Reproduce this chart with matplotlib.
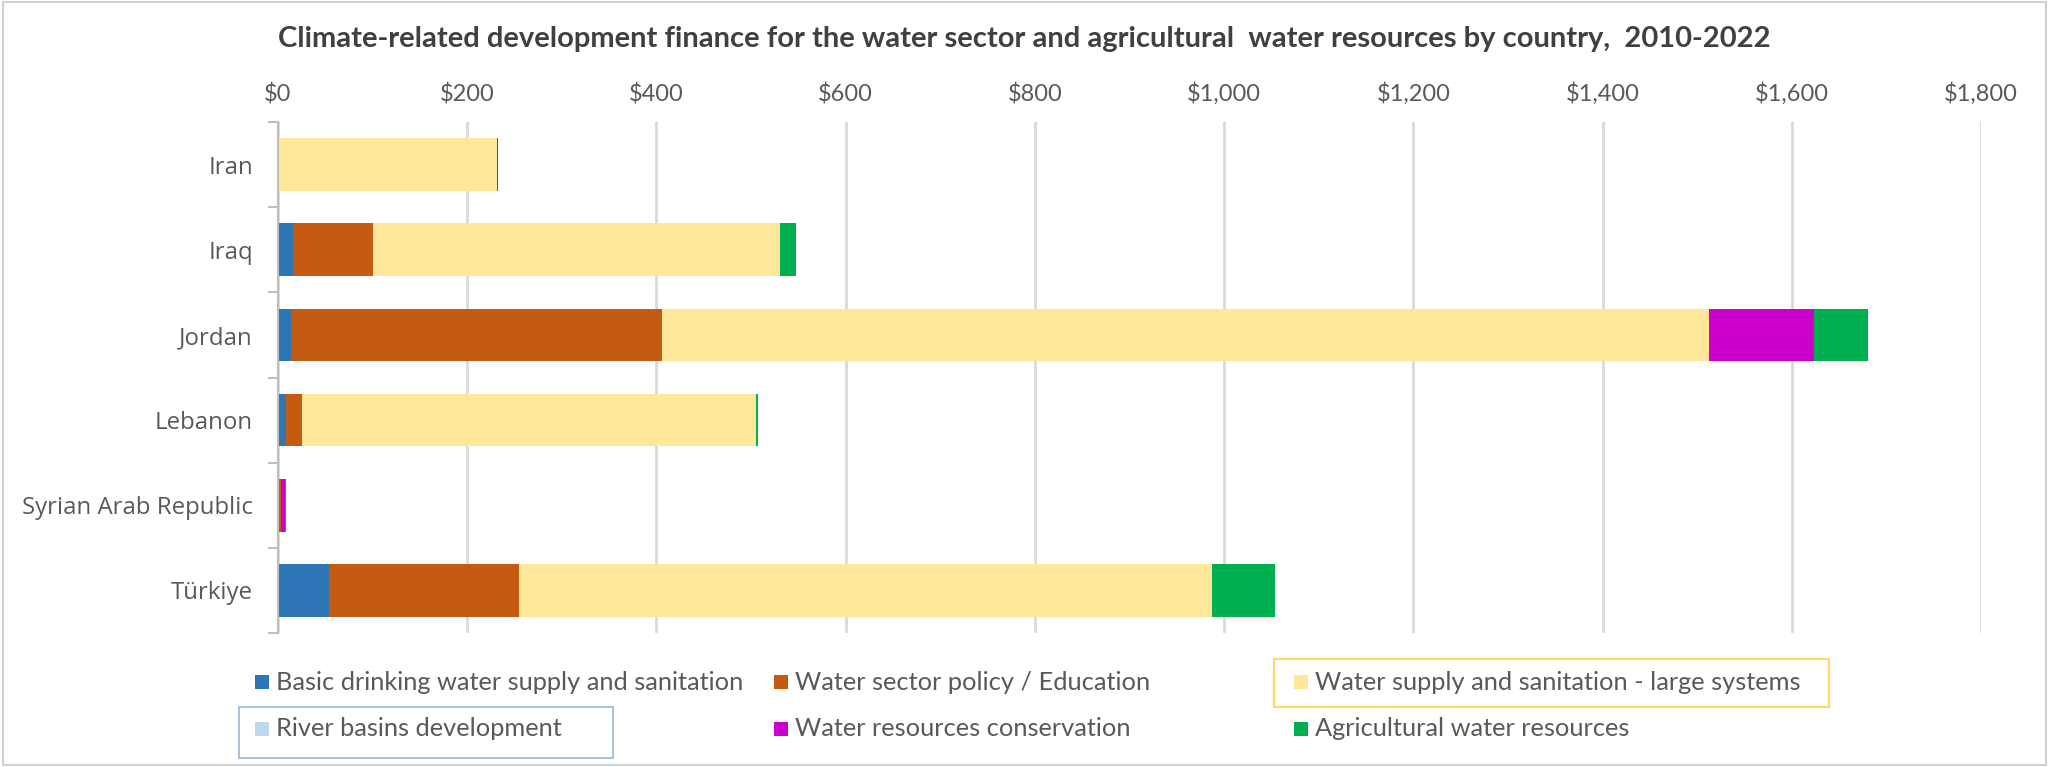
import numpy as np
import matplotlib.pyplot as plt
from matplotlib.patches import Rectangle
from matplotlib.ticker import FuncFormatter, FixedLocator

# climate-related development finance, USD million, 2010-2022
countries = ["Iran", "Iraq", "Jordan", "Lebanon", "Syrian Arab Republic", "Türkiye"]
basic_drinking = [0, 15.5, 14, 8, 0, 54]
policy_education = [1, 84.5, 392, 17, 3.5, 200.5]
large_systems = [230, 431, 1107, 480, 0, 732.5]
river_basins = [0, 0, 0, 0, 0, 0]
conservation = [2, 0, 110, 0, 4, 0]
agricultural = [0, 16, 58, 2, 1, 67]

series_names = ["Basic drinking water supply and sanitation",
                "Water sector policy / Education",
                "Water supply and sanitation - large systems",
                "River basins development",
                "Water resources conservation",
                "Agricultural water resources"]
series_values = [basic_drinking, policy_education, large_systems,
                 river_basins, conservation, agricultural]
colors = ["#2E75B6", "#C55A11", "#FFE699", "#BDD7EE", "#CC00CC", "#00B050"]

W, H = 2049, 767
fig = plt.figure(figsize=(W / 100, H / 100), dpi=100)
txt = "#595959"

# outer chart border
fig.patches.append(Rectangle((0.0015, 0.002), 0.997, 0.995, transform=fig.transFigure,
                             fill=False, edgecolor="#D0D0D0", linewidth=1.5))

ax = fig.add_axes([278 / W, 1 - 633 / H, (1981 - 278) / W, (633 - 122) / H])

y = np.arange(len(countries))
left = np.zeros(len(countries))
for name, vals, c in zip(series_names, series_values, colors):
    vals = np.array(vals, dtype=float)
    ax.barh(y, vals, left=left, height=0.62, color=c, linewidth=0, label=name, zorder=3)
    left += vals

ax.set_xlim(0, 1800)
ax.set_ylim(len(countries) - 0.5, -0.5)
ax.xaxis.tick_top()
ax.set_xticks(np.arange(0, 1801, 200))
ax.xaxis.set_major_formatter(FuncFormatter(lambda v, p: "${:,.0f}".format(v)))
ax.tick_params(axis="x", length=0, pad=12, labelsize=17, labelcolor=txt)
for lab in ax.get_xticklabels():
    lab.set_fontfamily("Lato")

ax.set_yticks(y)
ax.set_yticklabels(countries, fontfamily="Open Sans", fontsize=17.3, color=txt)
ax.tick_params(axis="y", which="major", length=0, pad=18)
ax.yaxis.set_minor_locator(FixedLocator(np.arange(-0.5, len(countries), 1)))
ax.tick_params(axis="y", which="minor", length=7, width=1.5, color="#BFBFBF", direction="out")

ax.grid(axis="x", color="#D9D9D9", linewidth=2, zorder=0)
for s in ["top", "right", "bottom"]:
    ax.spines[s].set_visible(False)
ax.spines["left"].set_color("#BFBFBF")
ax.spines["left"].set_linewidth(1.5)
ax.spines["left"].set_zorder(4)

fig.text(0.5, 1 - 39 / H,
         "Climate-related development finance for the water sector and agricultural  water resources by country,  2010-2022",
         ha="center", va="center", fontsize=21, fontweight="bold", color="#404040", fontfamily="Lato")

# legend laid out in a 3 x 2 grid
col_x = [255, 774, 1294]
row_y = [682, 729]
sq = 14
for i, (name, c) in enumerate(zip(series_names, colors)):
    cx = col_x[i % 3]
    cy = row_y[i // 3]
    fig.patches.append(Rectangle((cx / W, 1 - (cy + sq / 2) / H), sq / W, sq / H,
                                 transform=fig.transFigure, facecolor=c, edgecolor="none"))
    fig.text((cx + sq + 7) / W, 1 - cy / H, name, ha="left", va="center",
             fontsize=18.3, color=txt, fontfamily="Lato")

# highlight frames around two legend entries
fig.patches.append(Rectangle((1274 / W, 1 - 707 / H), (1829 - 1274) / W, 48 / H,
                             transform=fig.transFigure, fill=False, edgecolor="#FFD966", linewidth=1.5))
fig.patches.append(Rectangle((239 / W, 1 - 758 / H), (613 - 239) / W, 51 / H,
                             transform=fig.transFigure, fill=False, edgecolor="#A9C1D9", linewidth=1.5))

fig.savefig("out.png", dpi=100)
